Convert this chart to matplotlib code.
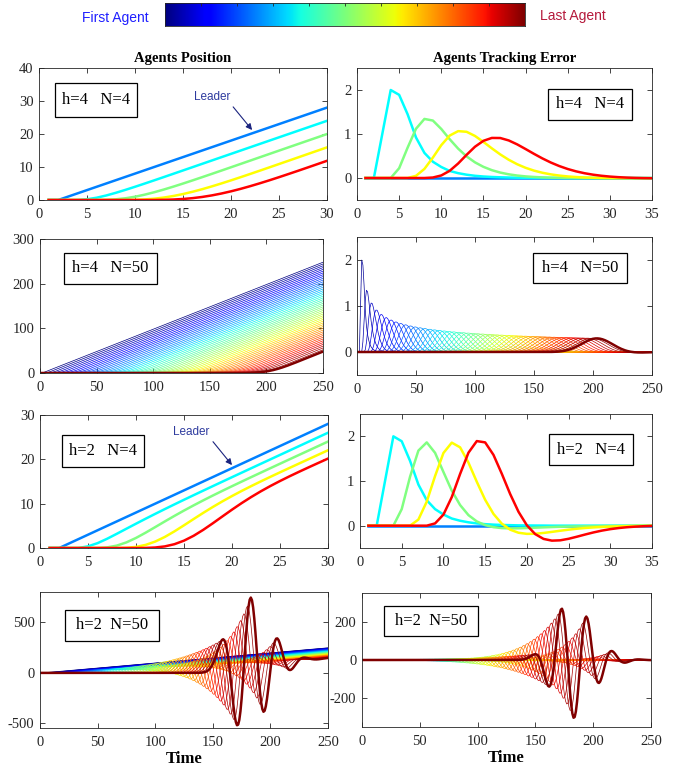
import matplotlib
matplotlib.use("Agg")
import matplotlib.pyplot as plt
import numpy as np
from matplotlib.patches import Rectangle

# (identical for h=4 and h=2)
e1_read = [0.0, 0.0, 1.0, 2.0, 1.89, 1.45, 0.92, 0.57, 0.37, 0.25, 0.16, 0.11,
           0.075, 0.05, 0.034, 0.023, 0.016, 0.011, 0.007, 0.005, 0.003, 0.002, 0.0]

# Leader: stands at 0, starts at t=2 with unit speed
leader_start = 2
leader_speed = 1.0

headways = [4, 4, 2, 2]
agent_counts = [4, 50, 4, 50]
time_ends = [35, 250, 35, 250]
box_labels = ["h=4   N=4", "h=4   N=50", "h=2   N=4", "h=2  N=50"]

pos_xticks = [[0, 5, 10, 15, 20, 25, 30], [0, 50, 100, 150, 200, 250],
              [0, 5, 10, 15, 20, 25, 30], [0, 50, 100, 150, 200, 250]]
err_xticks = [[0, 5, 10, 15, 20, 25, 30, 35], [0, 50, 100, 150, 200, 250],
              [0, 5, 10, 15, 20, 25, 30, 35], [0, 50, 100, 150, 200, 250]]
pos_yticks = [[0, 10, 20, 30, 40], [0, 100, 200, 300], [0, 10, 20, 30], [-500, 0, 500]]
err_yticks = [[0, 1, 2], [0, 1, 2], [0, 1, 2], [-200, 0, 200]]

small_colors = ["#0080ff", "#00ffff", "#80ff80", "#ffff00", "#ff0000"]


def follower_kernel():
    """Response filter of one follower, recovered from the first follower's error."""
    n = len(e1_read) + 5
    t = np.arange(1, n + 1)
    x_lead = leader_speed * np.maximum(0, t - leader_start)
    e1 = np.zeros(n)
    e1[:len(e1_read)] = e1_read
    y1 = x_lead - e1                      # x1 + h*v1
    return np.diff(y1, 2) / leader_speed  # leader ramp starts at t=2 -> kernel index 0


def run_platoon(h, n_agents, t_end):
    kernel = follower_kernel()
    t = np.arange(1, t_end + 1)
    x_prev = leader_speed * np.maximum(0, t - leader_start)
    positions = [x_prev]
    errors = [np.zeros(t_end)]
    for k in range(n_agents):
        y = np.convolve(x_prev, kernel)[:t_end]
        x = np.zeros(t_end)
        last = 0.0
        for i in range(t_end):
            last = (y[i] + h * last) / (1 + h)
            x[i] = last
        errors.append(x_prev - y)
        positions.append(x)
        x_prev = x
    return t, positions, errors


plt.rcParams['font.family'] = 'Liberation Serif'
plt.rcParams['axes.unicode_minus'] = False
plt.rcParams['axes.linewidth'] = 0.6
plt.rcParams['axes.edgecolor'] = '#262626'
plt.rcParams['xtick.color'] = '#262626'
plt.rcParams['ytick.color'] = '#262626'

W, H = 681, 772
fig = plt.figure(figsize=(W / 100, H / 100), dpi=100)


def px_axes(left, top, right, bottom):
    return fig.add_axes([left / W, 1 - bottom / H, (right - left) / W, (bottom - top) / H])


left_boxes = [(39, 68, 327, 200), (40, 239, 323, 373), (40, 415, 328, 548), (40, 592, 328, 728)]
right_boxes = [(357, 68, 652, 200), (357, 237, 652, 375), (360, 414, 652, 548), (362, 593, 651, 727)]

pos_ylims = [(0, 40), (0, 300), (0, 30), (-545, 800)]
err_ylims = [(-0.5, 2.5), (-0.5, 2.5), (-0.5, 2.5), (-350, 350)]

# label boxes in axes fractions: x0, x1, y0, y1
pos_label_box = [(0.056, 0.340, 0.629, 0.886), (0.085, 0.413, 0.664, 0.896),
                 (0.076, 0.361, 0.609, 0.850), (0.087, 0.413, 0.640, 0.868)]
err_label_box = [(0.647, 0.932, 0.606, 0.841), (0.597, 0.915, 0.667, 0.884),
                 (0.647, 0.935, 0.619, 0.851), (0.076, 0.401, 0.679, 0.903)]


def label_box(ax, frac, text):
    x0, x1, y0, y1 = frac
    ax.add_patch(Rectangle((x0, y0), x1 - x0, y1 - y0, transform=ax.transAxes,
                           facecolor='white', edgecolor='black', lw=0.9, zorder=5))
    ax.text((x0 + x1) / 2, (y0 + y1) / 2, text, transform=ax.transAxes, ha='center',
            va='center', fontsize=12, zorder=6)


def style(ax):
    ax.tick_params(direction='in', top=True, right=True, length=3.5, width=0.6,
                   labelsize=10.5)
    ax.tick_params(axis='x', pad=6)
    ax.tick_params(axis='y', pad=4)


for row in range(4):
    h = headways[row]
    n = agent_counts[row]
    t, positions, errors = run_platoon(h, n, time_ends[row])
    if n == 4:
        colors = small_colors
        widths = [1.8] * (n + 1)
    else:
        colors = plt.cm.jet(np.linspace(0, 1, n + 1))
        widths = [0.5] * n + [1.8]

    axp = px_axes(*left_boxes[row])
    axe = px_axes(*right_boxes[row])
    for k in range(n + 1):
        axp.plot(t, positions[k], color=colors[k], lw=widths[k])
        axe.plot(t, errors[k], color=colors[k], lw=widths[k])

    axp.set_xlim(0, pos_xticks[row][-1])
    axp.set_ylim(*pos_ylims[row])
    axp.set_xticks(pos_xticks[row])
    axp.set_yticks(pos_yticks[row])
    axe.set_xlim(0, err_xticks[row][-1])
    axe.set_ylim(*err_ylims[row])
    axe.set_xticks(err_xticks[row])
    axe.set_yticks(err_yticks[row])
    style(axp)
    style(axe)
    label_box(axp, pos_label_box[row], box_labels[row])
    label_box(axe, err_label_box[row], box_labels[row])

    if row == 0:
        axp.set_title('Agents Position', fontweight='bold', fontsize=10.5, pad=4)
        axe.set_title('Agents Tracking Error', fontweight='bold', fontsize=10.5, pad=4)
        axp.annotate('Leader', xy=(22.2, 21.2), xytext=(18.0, 31.2), ha='center', va='center',
                     fontsize=8.5, family='Liberation Sans', color='#2e3b9e',
                     arrowprops=dict(arrowstyle='-|>', color='#1a237e', lw=0.8,
                                     mutation_scale=9, shrinkA=1, shrinkB=0, relpos=(1, 0)))
    if row == 2:
        axp.annotate('Leader', xy=(20.0, 18.7), xytext=(15.8, 26.2), ha='center', va='center',
                     fontsize=8.5, family='Liberation Sans', color='#2e3b9e',
                     arrowprops=dict(arrowstyle='-|>', color='#1a237e', lw=0.8,
                                     mutation_scale=9, shrinkA=1, shrinkB=0, relpos=(1, 0)))
    if row == 3:
        axp.set_xlabel('Time', fontweight='bold', fontsize=12, labelpad=1)
        axe.set_xlabel('Time', fontweight='bold', fontsize=12, labelpad=1)

# agent colour bar on top
cax = px_axes(165, 3, 525, 26)
cax.imshow(np.linspace(0, 1, 256)[None, :], aspect='auto', cmap='jet', extent=[0, 1, 0, 1])
cax.set_xticks(np.arange(1, 10) / 10)
cax.set_yticks([])
cax.tick_params(axis='x', direction='in', top=True, bottom=False, labelbottom=False,
                length=2.5, width=0.6)
fig.text(115 / W, 1 - 18 / H, 'First Agent', color='#1f1fff', family='Liberation Sans',
         fontsize=10, ha='center', va='center')
fig.text(573 / W, 1 - 16 / H, 'Last Agent', color='#b5193b', family='Liberation Sans',
         fontsize=10, ha='center', va='center')

fig.savefig('out.png', dpi=100)
